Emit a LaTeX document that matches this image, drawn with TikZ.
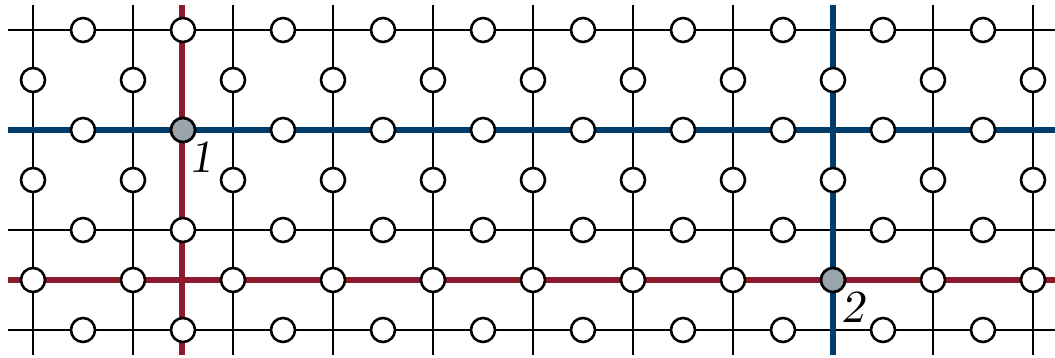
\documentclass[tikz,border=0pt]{standalone}
\usepackage{tikz}
\definecolor{logicred}{HTML}{8C1A2C}
\definecolor{logicblue}{HTML}{003D6B}
\definecolor{qubitgray}{HTML}{9AA4AC}
\newcommand{\bigtag}[1]{\scalebox{4.6}{\slshape #1}}
\begin{document}
\begin{tikzpicture}[x=1pt,y=-1pt,
  gridline/.style={line width=2.2pt,black},
  redpath/.style={line width=6.5pt,logicred},
  bluepath/.style={line width=6.5pt,logicblue},
  qubit/.style={circle,draw=black,line width=2.6pt,fill=white,minimum size=24pt,inner sep=0pt},
  marked/.style={qubit,fill=qubitgray},
  tag/.style={inner sep=0pt}]
\useasboundingbox (0,0) rectangle (1055,358);

% lattice: vertical lines
\foreach \i in {0,...,10}{
  \coordinate (vt\i) at ({33+100*\i},5);
  \coordinate (vb\i) at ({33+100*\i},355);
  \draw[gridline] (vt\i) -- (vb\i);
}
% lattice: horizontal lines
\foreach \r/\y in {0/30,1/130,2/230,3/330}{
  \coordinate (hl\r) at (8,\y);
  \coordinate (hr\r) at (1055,\y);
  \draw[gridline] (hl\r) -- (hr\r);
}

% logical operators
\coordinate (rt) at (182,5);
\coordinate (rb) at (182,355);
\coordinate (rl) at (8,280);
\coordinate (rr) at (1055,280);
\draw[redpath] (rt) -- (rb);
\draw[redpath] (rl) -- (rr);
\draw[bluepath] (hl1) -- (hr1);
\draw[bluepath] (vt8) -- (vb8);

% qubits on horizontal edges
\foreach \r/\y in {0/30,1/130,2/230,3/330}{
  \foreach \i in {0,...,9}{
    \node[qubit] (h\r-\i) at ({83+100*\i},\y) {};
  }
}
% qubits on vertical edges
\foreach \r/\y in {0/80,1/180,2/280}{
  \foreach \i in {0,...,10}{
    \node[qubit] (v\r-\i) at ({33+100*\i},\y) {};
  }
}

% highlighted qubits
\node[marked] (q1) at (h1-1) {};
\node[marked] (q2) at (v2-8) {};
\node[tag] (l1) at (201,157) {\bigtag{1}};
\node[tag] (l2) at (853,307) {\bigtag{2}};
\end{tikzpicture}
\end{document}
